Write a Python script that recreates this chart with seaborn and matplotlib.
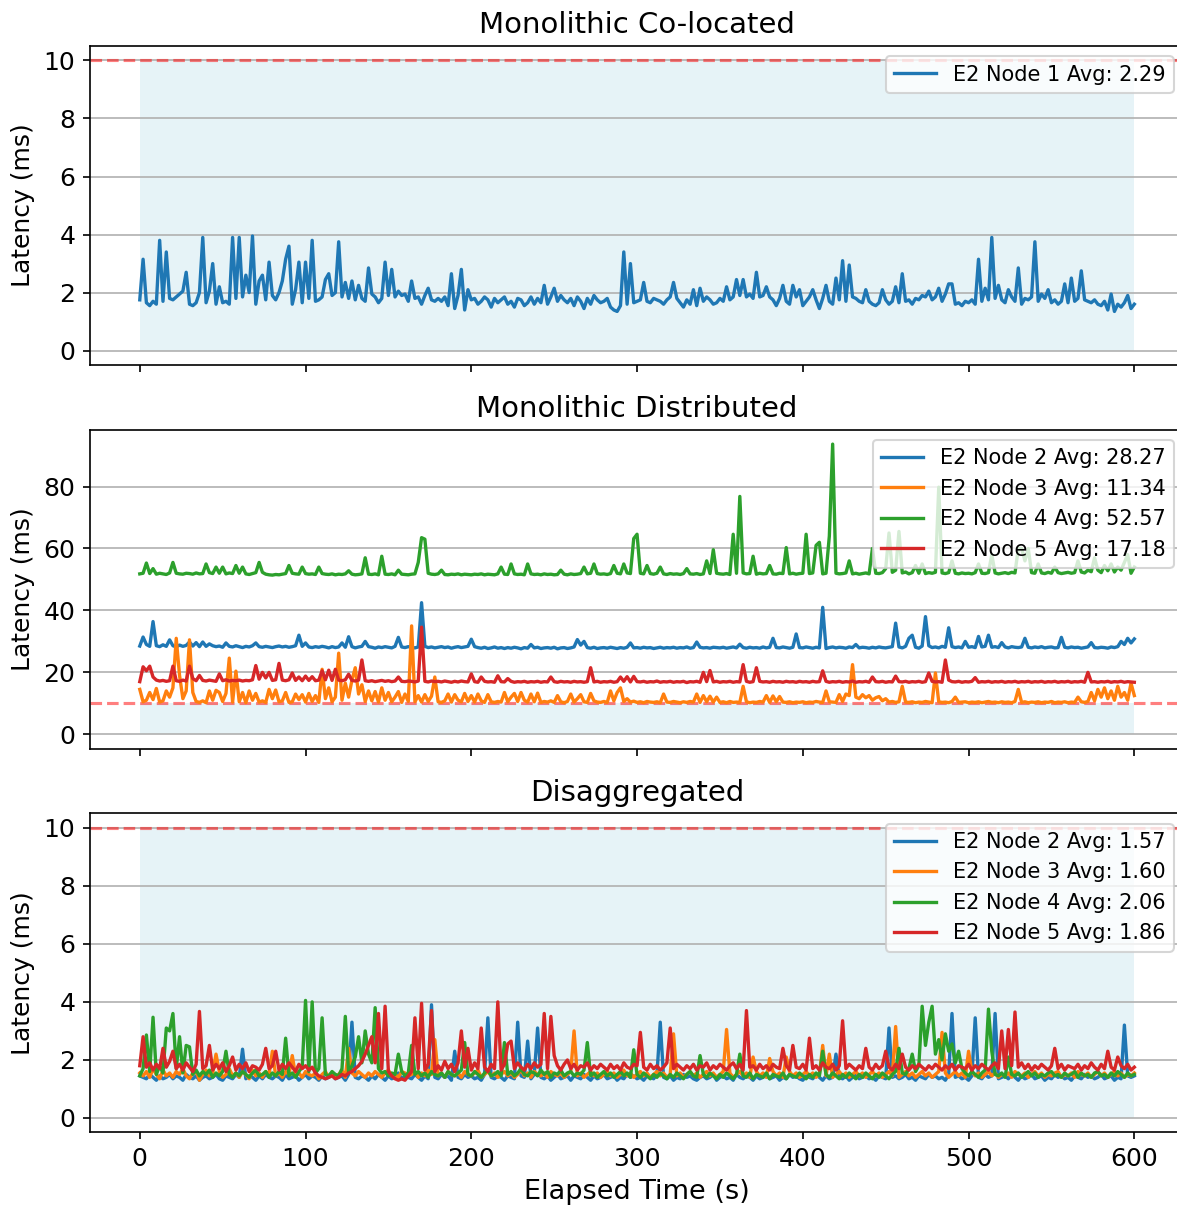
import numpy as np
import matplotlib
matplotlib.use("Agg")
import matplotlib.pyplot as plt
import seaborn as sns

# Sampling instants (s), one reading every 2 s
elapsed_s = np.arange(0, 601, 2)

# ---- Monolithic co-located: E2 Node 1 latency (ms)
coloc_node1 = [
    1.75, 3.15, 1.65, 1.55, 1.70, 1.60, 3.80, 1.70, 3.40, 1.80,
    1.75, 1.85, 1.95, 2.05, 2.70, 1.60, 1.55, 1.65, 2.00, 3.90,
    1.65, 2.05, 3.00, 1.60, 2.20, 1.65, 1.70, 1.60, 3.90, 1.80,
    3.90, 1.85, 2.60, 2.00, 3.95, 1.60, 2.40, 2.60, 1.75, 3.05,
    1.90, 1.75, 2.00, 2.40, 3.15, 3.60, 1.60, 2.10, 3.05, 1.65,
    3.05, 1.80, 3.80, 1.70, 1.75, 1.85, 2.45, 2.65, 1.90, 2.00,
    3.75, 1.85, 2.35, 1.80, 2.40, 1.75, 2.25, 1.80, 1.70, 2.85,
    1.95, 1.85, 1.65, 1.80, 3.05, 1.90, 2.80, 1.85, 2.05, 1.90,
    1.95, 1.70, 2.40, 1.80, 1.85, 1.60, 1.90, 2.15, 1.75, 1.70,
    1.80, 1.70, 1.85, 1.55, 2.65, 1.45, 1.90, 2.80, 1.40, 2.10,
    1.75, 1.80, 1.60, 1.70, 1.85, 1.75, 1.50, 1.80, 1.65, 1.75,
    1.85, 1.60, 1.70, 1.50, 1.80, 1.75, 1.55, 1.65, 1.85, 1.60,
    1.80, 1.65, 2.25, 1.60, 1.85, 2.15, 1.70, 1.90, 1.75, 1.65,
    1.80, 1.55, 1.85, 1.70, 1.45, 1.80, 1.60, 1.90, 1.75, 1.65,
    1.70, 1.80, 1.50, 1.40, 1.35, 1.55, 3.40, 1.60, 3.00, 1.65,
    1.70, 1.75, 2.35, 1.70, 1.65, 1.80, 1.75, 1.70, 1.60, 1.75,
    1.85, 2.35, 1.80, 1.65, 1.50, 1.75, 1.60, 2.10, 1.55, 2.15,
    1.70, 1.85, 1.75, 1.60, 1.65, 1.80, 1.70, 2.20, 1.75, 1.85,
    2.45, 1.90, 2.45, 1.85, 1.95, 1.80, 2.70, 1.85, 1.90, 2.20,
    1.85, 1.75, 1.55, 1.80, 2.25, 1.70, 1.60, 2.25, 1.85, 2.10,
    1.55, 1.70, 1.85, 2.10, 1.75, 1.45, 1.80, 2.25, 1.70, 1.60,
    2.50, 1.75, 3.10, 1.70, 2.95, 1.85, 1.80, 1.70, 1.65, 2.10,
    1.70, 1.60, 1.55, 1.65, 2.10, 1.75, 1.60, 1.70, 2.20, 1.65,
    2.65, 1.70, 1.75, 1.60, 1.80, 1.75, 1.90, 1.85, 2.05, 1.75,
    1.85, 2.15, 1.70, 1.95, 2.30, 2.30, 1.60, 1.65, 1.55, 1.70,
    1.65, 1.75, 1.60, 3.15, 1.70, 2.15, 1.75, 3.90, 1.80, 2.25,
    1.75, 1.65, 2.10, 1.85, 1.70, 2.85, 1.60, 1.80, 1.75, 1.85,
    3.75, 1.70, 1.95, 1.80, 2.10, 1.65, 1.75, 1.60, 1.70, 2.30,
    1.65, 2.50, 1.70, 1.80, 2.75, 1.75, 1.70, 1.65, 1.75, 1.60,
    1.55, 1.70, 1.40, 1.95, 1.35, 1.60, 1.50, 1.65, 1.90, 1.45,
    1.60,
]

# ---- Monolithic distributed: E2 Nodes 2-5 latency (ms)
dist_node2 = [
    28.5, 31.4, 29.0, 28.4, 36.4, 28.6, 28.3, 28.9, 28.4, 30.5,
    28.6, 28.2, 28.8, 28.4, 28.7, 29.8, 28.5, 29.6, 28.3, 29.8,
    28.4, 29.2, 28.6, 28.3, 28.5, 28.1, 29.5, 28.4, 28.2, 28.6,
    28.3, 28.0, 28.4, 28.2, 28.6, 29.5, 28.3, 28.1, 28.4, 28.2,
    28.0, 28.3, 28.5, 28.2, 28.4, 28.1, 28.3, 28.6, 32.0, 28.4,
    29.5, 28.2, 28.0, 28.3, 28.1, 28.4, 28.2, 27.9, 28.3, 28.0,
    28.2, 29.5, 28.1, 31.5, 28.3, 27.9, 28.2, 28.4, 30.0, 28.3,
    28.1, 27.8, 28.2, 28.0, 28.3, 28.1, 27.9, 28.4, 31.3, 28.2,
    28.0, 28.3, 28.1, 27.9, 28.2, 42.5, 28.4, 28.0, 28.2, 27.9,
    28.1, 28.3, 28.0, 28.2, 27.8, 28.1, 28.3, 28.0, 28.2, 28.4,
    30.7, 28.3, 28.0, 27.8, 28.1, 27.7, 27.9, 28.2, 27.8, 28.0,
    27.7, 28.0, 27.8, 28.1, 27.9, 27.6, 28.0, 27.8, 29.0, 27.9,
    28.1, 27.7, 27.9, 28.0, 27.8, 28.1, 27.6, 27.9, 28.0, 27.7,
    27.9, 28.2, 30.6, 28.8, 30.0, 28.0, 27.8, 28.1, 27.7, 27.9,
    28.0, 27.8, 28.1, 27.9, 27.7, 28.0, 27.8, 28.1, 29.5, 27.9,
    28.0, 27.8, 28.1, 27.9, 28.0, 27.7, 27.9, 28.1, 27.8, 28.0,
    27.9, 28.1, 27.8, 28.0, 27.9, 28.2, 27.8, 28.0, 29.8, 28.1,
    27.9, 28.0, 27.8, 28.1, 28.0, 27.9, 28.1, 27.8, 28.0, 28.2,
    27.9, 29.1, 28.0, 27.8, 28.1, 27.9, 28.0, 27.8, 28.2, 27.9,
    28.1, 31.0, 28.0, 27.9, 28.2, 28.0, 27.8, 28.1, 32.4, 28.0,
    27.9, 28.2, 28.0, 27.8, 28.1, 27.9, 41.0, 27.7, 28.0, 28.2,
    27.9, 28.1, 28.0, 27.8, 28.2, 28.0, 29.0, 27.9, 28.1, 28.0,
    27.8, 28.1, 27.9, 28.2, 28.0, 27.9, 28.1, 28.3, 35.9, 28.2,
    27.9, 28.4, 31.0, 32.0, 28.1, 27.8, 28.5, 38.0, 28.6, 28.0,
    28.2, 27.9, 28.4, 28.1, 34.4, 28.3, 28.0, 28.2, 27.9, 30.0,
    28.1, 28.3, 28.0, 31.6, 28.2, 28.4, 32.0, 28.1, 28.3, 28.0,
    29.6, 28.2, 27.9, 28.3, 28.1, 28.0, 28.2, 31.0, 28.1, 27.9,
    28.2, 28.0, 28.3, 27.9, 28.1, 28.2, 27.9, 28.0, 31.3, 28.1,
    27.9, 28.2, 28.0, 28.1, 27.8, 28.0, 28.2, 29.6, 28.0, 27.9,
    28.1, 28.0, 27.8, 28.2, 28.0, 28.3, 30.0, 29.0, 31.0, 29.5,
    30.8,
]

dist_node3 = [
    14.5, 10.5, 11.0, 13.5, 11.2, 14.8, 10.4, 10.8, 14.0, 12.0,
    15.0, 31.0, 19.0, 11.5, 14.0, 30.5, 13.5, 10.6, 10.3, 10.8,
    10.2, 14.0, 11.0, 14.2, 13.5, 10.6, 13.2, 24.6, 10.4, 20.4,
    10.5, 13.5, 10.2, 14.0, 11.0, 13.2, 10.4, 10.8, 10.3, 14.5,
    11.5, 14.3, 10.5, 10.8, 13.5, 10.3, 10.5, 13.0, 11.2, 12.8,
    10.4, 13.2, 10.6, 12.5, 10.3, 21.0, 11.5, 15.0, 10.5, 12.0,
    26.2, 11.0, 16.5, 12.0, 17.5, 21.5, 13.0, 16.0, 10.6, 14.0,
    10.8, 13.8, 10.4, 15.0, 11.0, 13.5, 10.5, 12.0, 13.8, 10.3,
    13.0, 10.6, 35.0, 10.5, 12.5, 10.4, 12.8, 10.6, 12.3, 18.5,
    10.5, 10.3, 10.8, 13.0, 10.4, 12.8, 11.0, 10.5, 13.2, 10.6,
    12.5, 10.4, 13.0, 10.8, 10.3, 12.8, 10.5, 10.3, 10.6, 10.4,
    13.5, 10.5, 12.0, 13.2, 10.6, 13.5, 11.0, 10.4, 13.0, 10.5,
    13.3, 10.3, 10.6, 10.4, 10.8, 10.3, 12.5, 10.5, 10.2, 10.6,
    13.0, 10.4, 11.5, 12.8, 10.5, 10.3, 13.2, 10.8, 10.4, 10.3,
    10.6, 10.3, 14.0, 10.8, 13.5, 15.0, 10.6, 11.5, 10.4, 10.7,
    10.3, 10.5, 10.2, 10.6, 10.4, 10.3, 10.5, 10.2, 13.0, 10.4,
    10.3, 10.6, 10.4, 10.2, 10.5, 10.3, 10.6, 10.4, 13.0, 10.3,
    12.5, 10.5, 12.3, 10.4, 12.0, 10.3, 10.5, 10.2, 10.6, 10.3,
    10.4, 10.3, 15.5, 10.5, 10.2, 10.4, 10.3, 10.6, 10.4, 12.5,
    10.3, 12.4, 10.5, 12.2, 10.4, 10.3, 10.5, 10.2, 10.4, 10.3,
    10.5, 10.2, 10.4, 10.3, 10.6, 10.4, 10.3, 14.0, 10.5, 10.4,
    10.3, 12.8, 10.6, 13.0, 12.5, 22.5, 12.0, 11.5, 12.8, 11.8,
    12.5, 11.0, 11.8, 12.2, 10.8, 11.5, 10.4, 10.6, 10.3, 10.5,
    15.5, 10.4, 10.3, 10.5, 10.2, 10.4, 10.3, 10.6, 10.4, 10.2,
    19.8, 10.5, 10.3, 10.4, 10.2, 10.6, 12.0, 10.3, 10.4, 10.5,
    10.2, 10.4, 10.3, 10.5, 10.2, 10.4, 10.6, 10.3, 10.4, 10.2,
    10.5, 10.3, 10.4, 10.2, 10.6, 14.5, 10.3, 10.5, 10.2, 10.4,
    10.3, 10.5, 10.2, 10.4, 10.3, 10.6, 10.2, 10.4, 10.3, 10.5,
    10.2, 10.4, 10.3, 12.0, 10.5, 10.3, 10.6, 13.5, 10.8, 14.5,
    12.0, 15.0, 11.5, 14.0, 11.0, 15.5, 12.0, 13.5, 11.0, 16.5,
    12.5,
]

dist_node4 = [
    51.8, 52.0, 55.3, 51.9, 53.5, 51.7, 52.0, 51.8, 51.6, 52.1,
    55.5, 52.0, 51.8, 51.7, 52.0, 51.9, 51.7, 52.1, 51.8, 51.9,
    55.0, 52.2, 51.9, 54.0, 52.0, 54.0, 51.8, 52.1, 51.9, 54.5,
    52.0, 54.0, 51.8, 51.6, 51.9, 52.2, 55.5, 52.3, 51.7, 51.5,
    51.4, 51.6, 51.5, 51.7, 51.9, 54.5, 52.0, 51.8, 51.7, 54.0,
    51.9, 51.7, 51.8, 51.6, 54.0, 51.9, 51.7, 51.6, 51.8, 51.5,
    51.7, 51.6, 51.8, 52.8, 51.7, 51.5, 51.6, 51.8, 57.0, 51.7,
    51.6, 51.8, 51.5, 57.5, 51.7, 51.6, 51.8, 51.5, 53.0, 51.7,
    51.6, 51.5, 51.7, 51.8, 55.5, 63.5, 63.0, 52.0, 51.7, 51.6,
    51.8, 53.0, 51.6, 51.5, 51.7, 51.6, 51.8, 51.5, 51.7, 51.6,
    51.5, 51.7, 51.6, 51.8, 51.5, 51.7, 51.6, 51.5, 51.8, 54.0,
    51.7, 51.6, 55.0, 51.8, 51.6, 51.7, 51.5, 55.0, 51.8, 51.6,
    51.7, 51.5, 51.8, 51.6, 51.7, 51.5, 51.6, 53.0, 51.7, 51.5,
    51.8, 51.6, 51.7, 51.9, 54.0, 51.8, 52.0, 55.0, 51.9, 51.7,
    51.8, 51.6, 51.9, 54.5, 52.0, 51.8, 55.0, 52.1, 51.9, 63.2,
    64.6, 52.0, 51.8, 54.5, 51.9, 51.7, 52.0, 54.0, 51.8, 51.6,
    51.9, 51.7, 51.8, 51.6, 51.9, 53.5, 51.8, 51.7, 51.9, 51.6,
    51.8, 56.0, 51.9, 59.6, 52.0, 51.8, 51.7, 51.9, 51.6, 64.6,
    52.0, 76.8, 52.1, 51.8, 51.9, 57.5, 51.7, 52.0, 51.8, 51.9,
    54.5, 51.8, 51.7, 52.0, 51.9, 60.3, 51.8, 52.0, 51.7, 51.9,
    52.0, 64.6, 51.9, 52.1, 61.0, 62.0, 51.8, 52.0, 64.0, 93.7,
    52.0, 51.8, 51.9, 52.1, 56.0, 51.8, 52.0, 51.7, 51.9, 52.1,
    51.8, 60.0, 52.0, 51.9, 52.2, 53.5, 65.0, 52.3, 53.0, 65.5,
    52.1, 52.4, 51.8, 52.2, 54.5, 52.0, 55.0, 51.9, 52.2, 52.0,
    52.3, 79.8, 52.1, 51.9, 52.2, 56.0, 52.0, 51.8, 52.1, 51.9,
    52.0, 51.8, 52.2, 55.0, 52.0, 51.9, 52.2, 58.0, 52.1, 51.8,
    52.0, 52.2, 51.9, 52.3, 52.1, 60.0, 60.0, 56.0, 60.0, 52.2,
    52.0, 55.0, 52.1, 51.9, 52.3, 52.0, 54.0, 52.2, 51.9, 52.1,
    52.3, 52.0, 52.2, 56.0, 52.4, 52.1, 53.0, 52.5, 57.0, 53.0,
    52.2, 54.5, 52.8, 55.0, 52.4, 54.0, 53.0, 55.5, 58.0, 52.0,
    54.0,
]

dist_node5 = [
    17.0, 21.8, 20.5, 22.0, 18.5, 17.5, 17.2, 17.4, 17.1, 17.3,
    22.0, 17.3, 17.1, 17.5, 17.2, 22.0, 18.0, 17.3, 19.0, 17.4,
    17.2, 17.5, 17.3, 17.1, 19.5, 17.3, 17.6, 17.2, 17.4, 17.3,
    17.5, 17.2, 17.4, 17.3, 17.6, 22.2, 17.8, 20.0, 18.2, 20.0,
    17.4, 17.6, 22.9, 17.5, 17.3, 17.6, 19.8, 17.4, 18.5, 17.3,
    18.8, 17.4, 18.6, 17.3, 17.5, 20.5, 17.6, 20.7, 17.4, 21.0,
    17.5, 17.3, 17.6, 19.4, 17.4, 17.2, 17.5, 24.0, 17.3, 17.1,
    17.3, 17.0, 17.2, 17.4, 17.1, 17.3, 17.0, 17.2, 18.5, 17.1,
    17.0, 17.2, 17.1, 16.9, 17.2, 34.6, 17.1, 16.9, 17.2, 17.0,
    17.1, 16.9, 17.2, 17.0, 16.8, 17.1, 16.9, 17.2, 17.0, 16.9,
    19.5, 17.0, 16.8, 18.5, 17.1, 16.9, 17.0, 16.8, 18.9, 17.0,
    16.9, 18.0, 17.1, 16.8, 17.0, 16.9, 17.1, 16.8, 17.0, 16.9,
    17.1, 16.8, 17.0, 16.9, 18.5, 17.0, 16.8, 17.1, 16.9, 17.0,
    16.8, 17.1, 16.9, 17.0, 16.8, 17.0, 21.5, 16.9, 17.1, 16.8,
    17.0, 16.9, 17.1, 16.8, 17.0, 18.5, 17.1, 18.6, 16.9, 18.7,
    17.0, 16.9, 17.1, 16.8, 17.0, 16.9, 17.2, 16.8, 17.0, 16.9,
    17.1, 16.8, 17.0, 16.9, 17.1, 16.7, 17.0, 16.9, 17.1, 16.8,
    20.0, 17.0, 20.6, 16.9, 17.1, 16.8, 17.0, 16.9, 17.1, 16.8,
    17.0, 16.9, 22.5, 17.1, 16.8, 17.0, 21.5, 17.1, 16.9, 17.0,
    16.8, 17.1, 16.9, 17.0, 16.8, 17.1, 16.9, 17.0, 16.8, 17.1,
    16.9, 17.0, 16.8, 17.1, 16.9, 17.0, 20.5, 17.1, 16.8, 17.0,
    16.9, 17.1, 16.8, 17.0, 16.9, 17.2, 16.8, 17.0, 16.9, 17.1,
    16.8, 18.5, 17.0, 16.9, 17.1, 16.8, 17.0, 16.9, 18.8, 17.0,
    16.9, 17.1, 16.8, 17.0, 16.9, 17.1, 16.8, 17.0, 19.8, 17.1,
    16.9, 17.0, 16.8, 24.0, 17.5, 17.0, 16.9, 17.1, 16.8, 17.0,
    16.9, 17.1, 18.3, 16.8, 17.0, 16.9, 17.1, 16.8, 17.0, 16.9,
    17.1, 16.8, 17.0, 16.9, 17.1, 16.8, 17.0, 16.9, 17.1, 16.8,
    17.0, 16.9, 17.1, 16.8, 17.0, 16.9, 17.1, 16.8, 17.0, 16.9,
    17.1, 16.8, 17.0, 16.9, 17.1, 16.8, 20.0, 16.9, 17.0, 16.8,
    17.0, 16.9, 17.1, 16.8, 17.0, 16.9, 17.1, 16.8, 17.0, 16.9,
    16.8,
]

# ---- Disaggregated: E2 Nodes 2-5 latency (ms)
disagg_node2 = [
    1.45, 1.40, 1.35, 1.50, 1.40, 1.30, 1.45, 1.35, 1.40, 1.50,
    1.35, 1.45, 1.40, 1.30, 1.50, 1.40, 1.35, 1.45, 1.30, 1.40,
    1.45, 1.35, 1.40, 1.50, 1.35, 1.30, 1.45, 1.40, 1.35, 1.50,
    1.40, 2.37, 1.35, 1.45, 1.40, 1.30, 1.45, 1.35, 1.50, 1.40,
    1.35, 1.45, 1.40, 1.30, 1.50, 1.35, 1.40, 1.45, 1.30, 1.40,
    1.50, 1.35, 1.45, 1.40, 1.30, 1.45, 1.35, 1.40, 1.50, 1.35,
    1.40, 1.45, 1.30, 1.50, 3.30, 1.40, 1.35, 1.45, 1.40, 1.30,
    1.45, 1.35, 1.50, 1.40, 1.30, 1.45, 1.35, 1.40, 1.55, 1.35,
    1.45, 1.40, 1.35, 1.50, 1.40, 1.30, 1.45, 1.35, 3.90, 1.40,
    1.35, 1.50, 1.40, 1.45, 1.30, 2.30, 1.40, 1.35, 1.50, 1.40,
    1.45, 1.35, 1.40, 1.30, 1.50, 3.45, 1.40, 1.35, 1.45, 1.40,
    1.30, 1.45, 1.40, 1.35, 3.30, 1.45, 1.40, 2.65, 1.35, 1.50,
    3.10, 1.40, 1.35, 1.45, 1.30, 1.40, 1.50, 1.35, 1.40, 1.45,
    1.30, 1.45, 1.40, 1.35, 1.50, 1.40, 1.30, 1.45, 1.35, 1.40,
    1.50, 1.35, 1.40, 1.45, 1.30, 1.40, 1.35, 1.50, 1.40, 1.45,
    1.35, 1.40, 1.30, 1.45, 1.40, 1.35, 1.50, 3.30, 1.40, 1.35,
    1.45, 1.30, 1.40, 1.35, 1.50, 1.40, 1.45, 1.35, 1.30, 1.40,
    1.45, 1.35, 1.40, 1.50, 1.30, 1.40, 1.45, 1.35, 1.40, 1.30,
    1.50, 1.40, 1.35, 1.45, 1.40, 1.30, 1.45, 1.35, 1.40, 1.50,
    1.35, 1.40, 1.45, 1.30, 1.40, 1.35, 1.50, 1.40, 1.45, 1.35,
    1.30, 1.45, 1.40, 1.35, 1.50, 1.40, 1.30, 1.45, 1.35, 1.40,
    2.20, 1.40, 1.35, 1.45, 1.30, 1.40, 1.50, 1.35, 1.40, 1.45,
    1.35, 1.40, 1.30, 1.45, 1.40, 1.35, 3.10, 1.40, 1.45, 1.35,
    1.40, 1.50, 1.35, 1.40, 1.30, 1.45, 1.40, 1.35, 1.50, 1.40,
    1.45, 1.35, 1.40, 1.30, 1.50, 3.60, 1.40, 1.45, 1.35, 1.40,
    1.30, 1.45, 3.45, 1.40, 1.35, 1.50, 1.40, 1.45, 3.60, 1.35,
    1.40, 1.45, 1.35, 1.50, 1.40, 1.30, 1.45, 1.35, 1.40, 1.50,
    1.35, 1.40, 1.45, 1.30, 1.40, 1.35, 1.50, 1.40, 1.45, 1.35,
    1.40, 1.30, 1.45, 1.40, 1.35, 1.50, 1.40, 1.45, 1.35, 1.40,
    1.50, 1.35, 1.40, 1.45, 1.30, 1.40, 1.35, 3.20, 1.45, 1.40,
    1.45,
]

disagg_node3 = [
    1.55, 1.45, 1.60, 1.40, 1.70, 1.50, 1.35, 1.65, 1.45, 1.55,
    1.40, 1.60, 1.50, 1.70, 1.45, 1.35, 1.55, 1.60, 1.30, 1.50,
    1.65, 1.45, 1.55, 2.20, 1.60, 1.40, 1.50, 1.70, 1.45, 1.55,
    1.40, 1.60, 1.50, 1.35, 1.65, 1.45, 1.55, 1.40, 1.60, 1.50,
    2.30, 1.45, 1.55, 1.40, 1.60, 1.50, 2.15, 1.45, 1.55, 1.40,
    1.60, 1.50, 1.45, 1.55, 1.35, 1.50, 1.60, 1.40, 1.55, 1.45,
    1.50, 1.65, 1.40, 2.40, 1.55, 1.45, 1.60, 1.50, 1.40, 1.55,
    1.45, 1.60, 1.50, 1.40, 1.55, 1.65, 1.45, 1.50, 1.40, 1.60,
    1.55, 1.45, 1.50, 1.60, 1.40, 1.55, 1.45, 1.65, 1.50, 2.70,
    1.45, 1.55, 1.40, 1.60, 1.50, 1.45, 1.55, 1.40, 1.60, 1.50,
    1.45, 1.55, 1.65, 1.40, 1.50, 1.60, 1.45, 1.55, 1.40, 1.50,
    1.60, 1.45, 1.55, 1.40, 1.50, 1.65, 1.45, 1.55, 1.40, 1.60,
    1.50, 1.45, 1.55, 1.40, 1.60, 1.50, 1.45, 1.55, 1.40, 1.50,
    1.60, 3.00, 1.45, 1.55, 1.40, 1.50, 1.60, 1.45, 1.55, 1.40,
    1.50, 1.60, 1.45, 1.55, 1.40, 1.50, 1.65, 1.45, 1.55, 1.40,
    1.50, 1.60, 1.45, 1.55, 1.40, 1.50, 1.60, 1.45, 1.55, 1.40,
    1.50, 2.90, 1.45, 1.55, 1.40, 1.50, 1.60, 1.45, 1.55, 1.40,
    1.50, 1.60, 1.45, 1.55, 1.40, 1.50, 1.60, 3.05, 1.55, 1.40,
    1.50, 1.60, 1.45, 1.55, 1.40, 2.10, 1.60, 1.45, 1.55, 1.40,
    2.05, 1.60, 1.45, 1.55, 1.40, 2.10, 1.60, 1.45, 1.55, 1.40,
    1.50, 1.60, 1.45, 1.55, 1.40, 1.50, 2.50, 1.45, 2.20, 1.40,
    1.50, 1.60, 1.45, 1.55, 1.40, 1.50, 1.60, 1.45, 1.55, 1.40,
    1.50, 1.60, 1.45, 1.55, 1.40, 1.50, 1.60, 1.45, 3.15, 1.40,
    1.50, 1.60, 1.45, 1.55, 1.40, 1.50, 1.60, 1.45, 1.55, 1.40,
    1.50, 1.60, 2.95, 1.55, 1.40, 1.50, 1.60, 1.45, 1.55, 1.40,
    2.30, 1.60, 1.45, 1.55, 1.40, 1.50, 1.60, 1.45, 1.55, 1.40,
    1.50, 1.45, 1.55, 1.40, 1.60, 1.50, 1.45, 1.55, 1.40, 1.50,
    1.60, 1.45, 1.55, 1.40, 1.50, 1.45, 1.55, 1.60, 1.40, 1.50,
    1.45, 1.55, 1.40, 1.60, 1.50, 1.45, 1.55, 1.40, 1.50, 1.60,
    1.45, 1.55, 1.40, 1.50, 1.60, 1.45, 1.55, 1.40, 1.50, 1.45,
    1.55,
]

disagg_node4 = [
    1.45, 1.70, 2.86, 1.60, 3.47, 1.50, 1.80, 1.55, 3.10, 3.00,
    3.60, 1.70, 2.80, 1.55, 2.50, 2.45, 1.50, 1.65, 1.45, 1.60,
    1.50, 1.65, 1.40, 1.55, 1.45, 1.60, 2.30, 1.50, 1.40, 1.55,
    1.45, 1.60, 1.50, 1.40, 1.55, 1.65, 1.45, 1.50, 1.60, 1.40,
    1.55, 1.45, 1.60, 1.50, 2.75, 1.45, 1.55, 1.40, 1.60, 1.75,
    4.05, 1.60, 4.00, 1.55, 1.70, 3.45, 1.50, 1.45, 1.60, 1.50,
    1.45, 1.70, 3.50, 1.55, 1.80, 2.10, 2.80, 1.90, 3.00, 2.20,
    1.90, 3.80, 1.70, 1.55, 1.60, 1.45, 1.55, 1.50, 2.20, 1.60,
    1.45, 1.55, 2.50, 1.50, 1.60, 1.45, 1.55, 1.40, 1.60, 1.50,
    1.45, 1.55, 1.40, 1.60, 1.50, 1.45, 1.55, 1.65, 2.60, 1.50,
    1.45, 1.60, 1.50, 1.40, 1.55, 1.65, 1.45, 1.50, 1.60, 1.45,
    2.60, 1.50, 1.60, 1.45, 1.55, 1.70, 1.50, 1.45, 1.60, 1.55,
    1.45, 1.65, 1.50, 1.60, 1.40, 1.55, 1.50, 1.65, 1.45, 1.55,
    1.60, 1.45, 1.55, 1.50, 1.65, 2.60, 1.45, 1.55, 1.40, 1.50,
    1.60, 1.45, 1.55, 1.40, 1.50, 1.60, 1.45, 1.55, 1.40, 2.35,
    1.50, 1.40, 1.55, 1.45, 1.35, 1.50, 1.40, 1.55, 1.45, 1.35,
    1.50, 1.40, 1.55, 1.45, 1.35, 1.50, 1.60, 1.45, 1.40, 2.15,
    1.50, 1.40, 1.55, 1.45, 1.35, 1.50, 1.40, 1.55, 1.45, 1.35,
    1.50, 2.20, 1.45, 1.40, 1.55, 1.35, 1.50, 1.45, 1.40, 1.55,
    1.35, 1.50, 1.45, 1.40, 1.55, 1.35, 1.50, 1.45, 1.40, 1.55,
    1.45, 1.35, 1.50, 1.40, 1.55, 1.45, 2.30, 1.50, 1.40, 1.55,
    1.45, 1.35, 1.50, 1.40, 1.55, 1.45, 1.35, 1.50, 1.40, 1.55,
    1.45, 1.35, 1.50, 1.40, 1.55, 1.45, 1.35, 1.50, 1.60, 2.40,
    1.55, 1.50, 1.70, 2.20, 1.60, 1.80, 3.85, 2.50, 3.30, 3.85,
    2.20, 2.70, 2.00, 2.90, 2.30, 2.55, 1.90, 2.30, 1.70, 1.55,
    1.45, 1.60, 1.50, 1.40, 1.55, 1.65, 3.75, 2.30, 1.50, 1.45,
    1.55, 1.40, 2.10, 1.50, 1.45, 1.55, 1.40, 1.50, 1.60, 1.45,
    1.55, 1.40, 1.50, 1.45, 1.55, 1.60, 1.45, 1.50, 1.40, 1.55,
    1.45, 1.50, 1.60, 1.40, 1.55, 1.45, 1.50, 1.40, 1.55, 1.60,
    1.45, 1.50, 1.40, 1.55, 1.45, 1.60, 1.50, 1.40, 1.55, 1.45,
    1.50,
]

disagg_node5 = [
    1.80, 2.80, 1.75, 1.90, 1.65, 1.85, 1.70, 2.40, 1.75, 1.95,
    2.30, 1.70, 1.85, 1.65, 1.90, 1.75, 1.60, 1.85, 3.67, 1.70,
    1.80, 2.50, 1.65, 1.85, 1.70, 1.90, 1.60, 1.80, 2.10, 1.65,
    1.85, 1.70, 1.90, 1.60, 1.80, 1.75, 1.65, 1.85, 2.40, 1.70,
    1.80, 2.30, 1.65, 1.85, 1.70, 1.90, 1.75, 1.60, 1.85, 1.70,
    1.80, 1.65, 1.75, 1.55, 1.45, 1.40, 1.35, 1.40, 1.45, 1.35,
    1.40, 1.50, 1.45, 1.55, 1.60, 1.70, 1.80, 1.95, 2.20, 2.50,
    2.80, 1.90, 3.60, 1.70, 3.85, 1.60, 1.45, 1.35, 1.30, 1.35,
    1.30, 1.45, 1.60, 3.45, 1.70, 3.95, 1.65, 1.85, 3.70, 1.60,
    1.80, 1.65, 1.95, 1.70, 1.85, 1.60, 1.90, 3.00, 1.75, 2.40,
    1.65, 1.90, 1.70, 3.10, 1.75, 1.60, 1.85, 1.70, 4.00, 1.65,
    1.85, 2.55, 2.65, 1.70, 1.90, 1.75, 1.65, 1.85, 1.70, 1.90,
    1.75, 1.85, 3.60, 1.70, 3.50, 2.15, 1.80, 1.65, 1.85, 2.00,
    1.70, 1.85, 1.65, 1.80, 1.75, 1.90, 1.65, 1.80, 1.70, 1.85,
    1.75, 1.65, 1.85, 1.70, 1.80, 1.65, 1.90, 1.75, 1.70, 1.85,
    1.80, 2.95, 1.75, 1.65, 1.85, 1.70, 1.80, 1.65, 1.75, 1.90,
    3.10, 1.70, 1.85, 1.75, 1.65, 1.80, 1.70, 1.85, 1.65, 1.80,
    1.75, 1.90, 1.65, 1.80, 1.70, 1.85, 1.75, 1.65, 1.80, 1.90,
    1.70, 1.85, 1.65, 3.70, 1.75, 1.80, 1.65, 1.85, 1.70, 1.80,
    1.65, 1.85, 1.75, 1.70, 2.40, 1.80, 1.65, 2.50, 1.75, 1.70,
    1.85, 1.65, 2.75, 1.70, 1.80, 1.65, 1.90, 1.75, 1.70, 1.85,
    1.65, 1.80, 3.35, 1.70, 1.85, 1.75, 1.65, 1.80, 1.70, 2.40,
    1.75, 1.65, 1.85, 1.70, 1.80, 2.30, 1.75, 1.65, 1.85, 1.70,
    2.20, 1.75, 1.65, 1.80, 1.70, 1.85, 1.75, 1.65, 1.80, 1.70,
    1.85, 1.75, 1.65, 1.80, 1.70, 1.85, 1.65, 1.80, 1.75, 1.70,
    1.85, 1.65, 1.80, 1.70, 1.85, 1.75, 1.65, 1.80, 1.90, 1.70,
    3.00, 1.70, 3.05, 1.80, 3.65, 1.75, 1.90, 1.70, 1.85, 1.65,
    1.80, 1.70, 1.85, 1.75, 1.65, 1.80, 2.40, 1.70, 1.85, 1.65,
    1.80, 1.75, 1.70, 1.85, 1.65, 1.80, 1.70, 1.90, 1.75, 1.65,
    1.85, 1.70, 2.30, 1.75, 1.65, 2.10, 1.80, 1.70, 1.85, 1.65,
    1.75,
]

# Average latency reported per node (ms)
coloc_avg = [2.29]
dist_avg = [28.27, 11.34, 52.57, 17.18]
disagg_avg = [1.57, 1.60, 2.06, 1.86]

coloc_nodes = [1]
split_nodes = [2, 3, 4, 5]

panel_titles = ["Monolithic Co-located", "Monolithic Distributed", "Disaggregated"]

THRESHOLD_MS = 10

palette = sns.color_palette("tab10")

panels = [
    (panel_titles[0], coloc_nodes, [coloc_node1], coloc_avg),
    (panel_titles[1], split_nodes, [dist_node2, dist_node3, dist_node4, dist_node5], dist_avg),
    (panel_titles[2], split_nodes, [disagg_node2, disagg_node3, disagg_node4, disagg_node5], disagg_avg),
]

fig, axes = plt.subplots(3, 1, figsize=(1177 / 150, 1209 / 150), dpi=150, sharex=True)
fig.subplots_adjust(left=0.0765, right=1.006, top=0.962, bottom=0.0633, hspace=0.202)

for ax, (title, nodes, series, avgs) in zip(axes, panels):
    # target latency band and threshold line
    ax.fill_between([elapsed_s[0], elapsed_s[-1]], 0, THRESHOLD_MS,
                    color="lightblue", alpha=0.3, linewidth=0)
    ax.axhline(THRESHOLD_MS, color="red", linestyle="--", alpha=0.5, linewidth=1.5)
    for k, (node, vals, avg) in enumerate(zip(nodes, series, avgs)):
        sns.lineplot(x=elapsed_s, y=vals, ax=ax, color=palette[k], linewidth=1.6,
                     label=f"E2 Node {node} Avg: {avg:.2f}")
    ax.set_title(title, fontsize=14)
    ax.set_ylabel("Latency (ms)", fontsize=12)
    ax.set_xlabel("")
    ax.tick_params(axis="both", labelsize=12)
    ax.grid(axis="y", color="#b0b0b0", linewidth=0.8)
    ax.legend(loc="upper right", fontsize=10)

axes[-1].set_xlabel("Elapsed Time (s)", fontsize=13)

fig.savefig("out.png", dpi=150)
